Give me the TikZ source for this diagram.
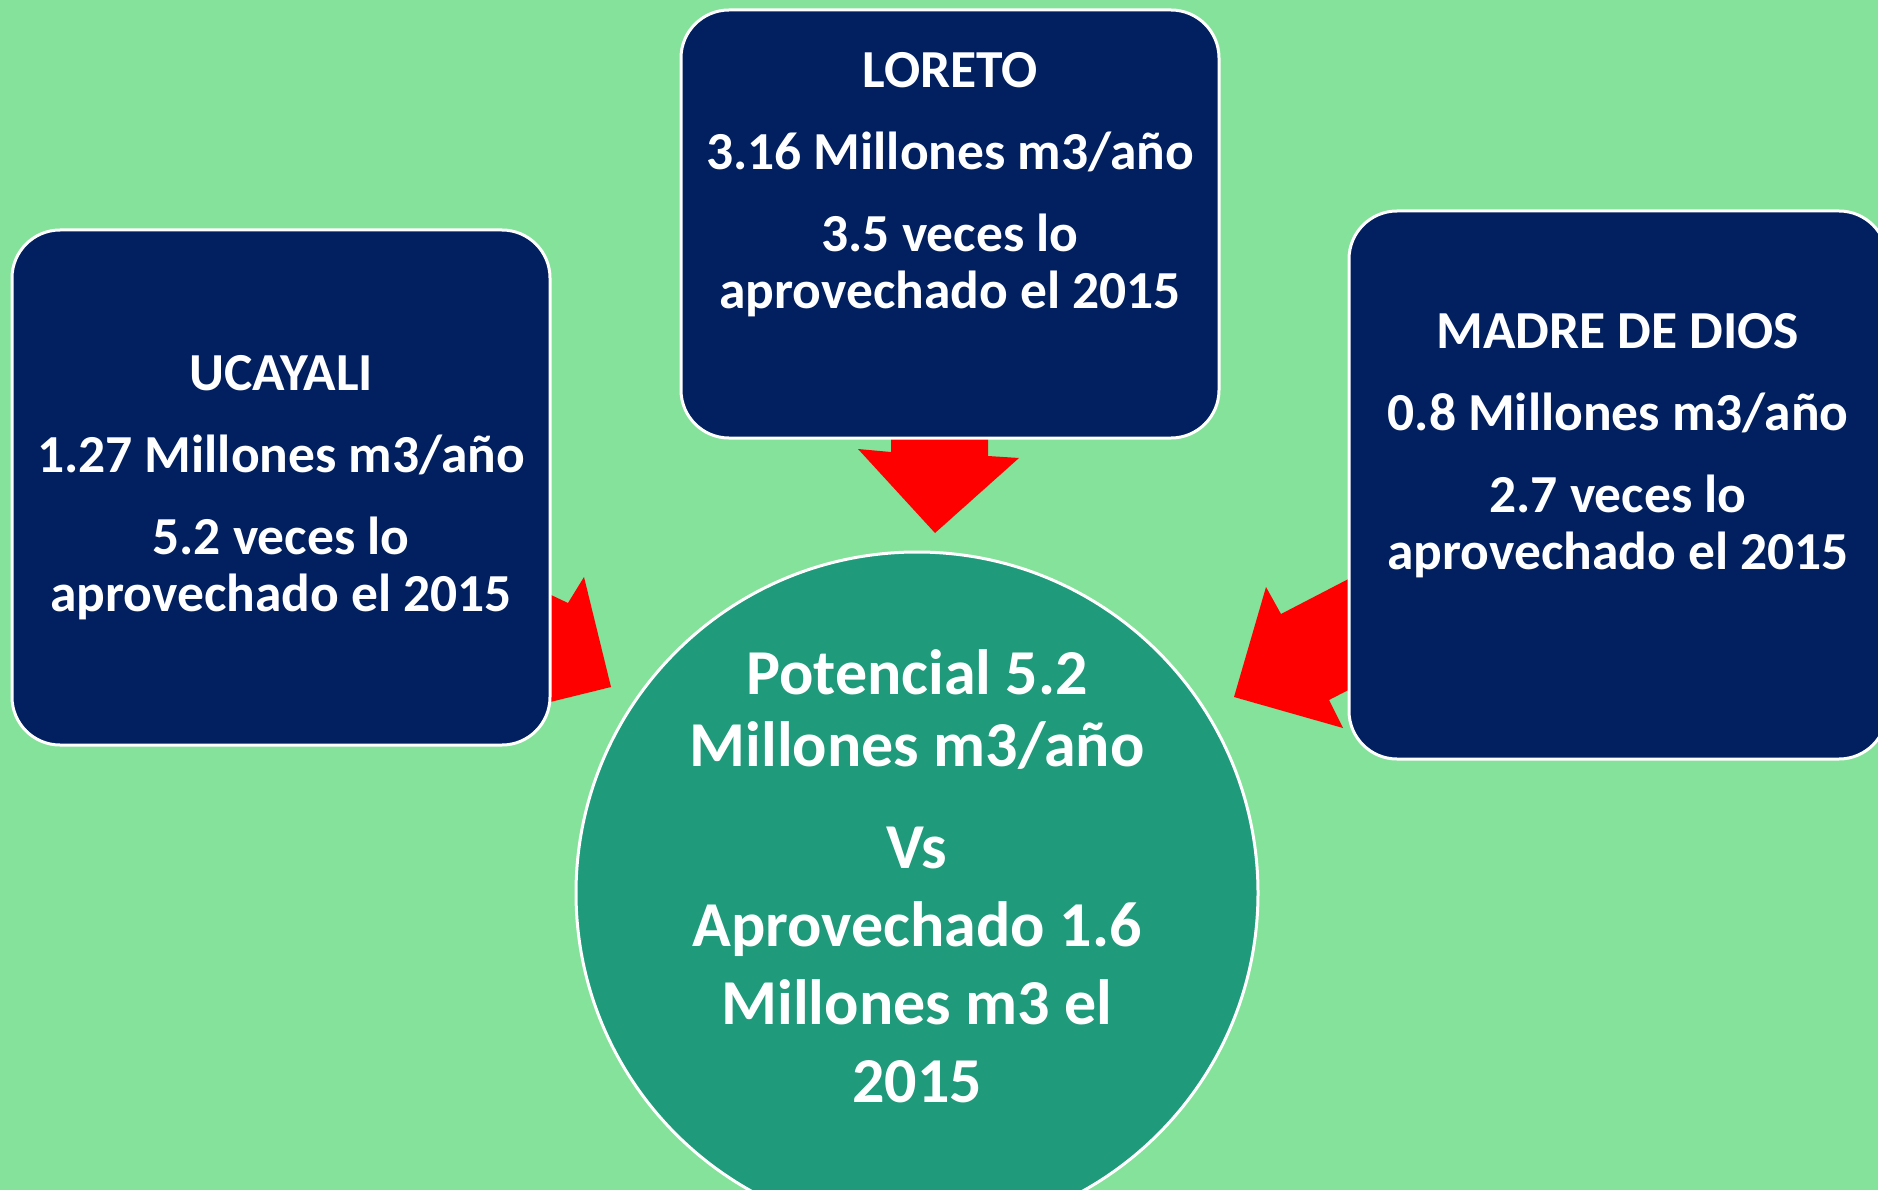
\documentclass[tikz,border=0pt]{standalone}
\usepackage{fontspec}
\setmainfont{Carlito}
\definecolor{fondo}{RGB}{132,226,154}
\definecolor{azul}{RGB}{2,32,96}
\definecolor{verde}{RGB}{31,154,122}
\begin{document}
\begin{tikzpicture}[x=1pt,y=-1pt,
	caja/.style={draw=white,line width=3pt,fill=azul,rounded corners=48pt,minimum width=538pt,inner sep=0pt},
	texto/.style={text=white,align=center,font=\fontsize{53.5}{57}\selectfont\bfseries},
	flecha/.style={fill=red}]
	
	\fill[fondo] (0,0) rectangle (1878,1190);
	\useasboundingbox (0,0) rectangle (1878,1190);
	\clip (0,0) rectangle (1878,1190);
	
	% flechas (detras de las cajas)
	\fill[flecha] (891,430) -- (891,452) -- (858,449) -- (935,533) -- (1019,458) -- (988,456) -- (988,430) -- cycle;
	\fill[flecha] (530,585) -- (568,603) -- (584,577) -- (611,687) -- (530,707) -- cycle;
	\fill[flecha] (1360,573) -- (1281,614) -- (1266,587) -- (1234,697) -- (1343,728) -- (1329,700) -- (1360,684) -- cycle;
	
	% cajas
	\node[caja,minimum height=515pt] (ucayali) at (281,487.5) {};
	\node[caja,minimum height=428pt] (loreto) at (950,224) {};
	\node[caja,minimum height=548pt] (madre) at (1618,485) {};
	%
	\node[texto] (ucayali-t) at (ucayali) {UCAYALI\\[25pt] 1.27 Millones m3/año\\[25pt] 5.2 veces lo\\ aprovechado el 2015};
	\node[texto] (loreto-t) at ([yshift=39pt]loreto.center) {LORETO\\[25pt] 3.16 Millones m3/año\\[25pt] 3.5 veces lo\\ aprovechado el 2015};
	\node[texto] (madre-t) at ([yshift=39pt]madre.center) {MADRE DE DIOS\\[25pt] 0.8 Millones m3/año\\[25pt] 2.7 veces lo\\ aprovechado el 2015};
	
	% circulo
	\node[circle,draw=white,line width=3pt,fill=verde,minimum size=682pt,inner sep=0pt] (potencial) at (917,893) {};
	\node[text=white,align=center,font=\fontsize{64}{78}\selectfont\bfseries] (potencial-t) at ([yshift=17pt]potencial.center)
		{Potencial 5.2\\[-6pt] Millones m3/año\\[24pt] Vs\\ Aprovechado 1.6\\ Millones m3 el\\ 2015};
	
\end{tikzpicture}
\end{document}
